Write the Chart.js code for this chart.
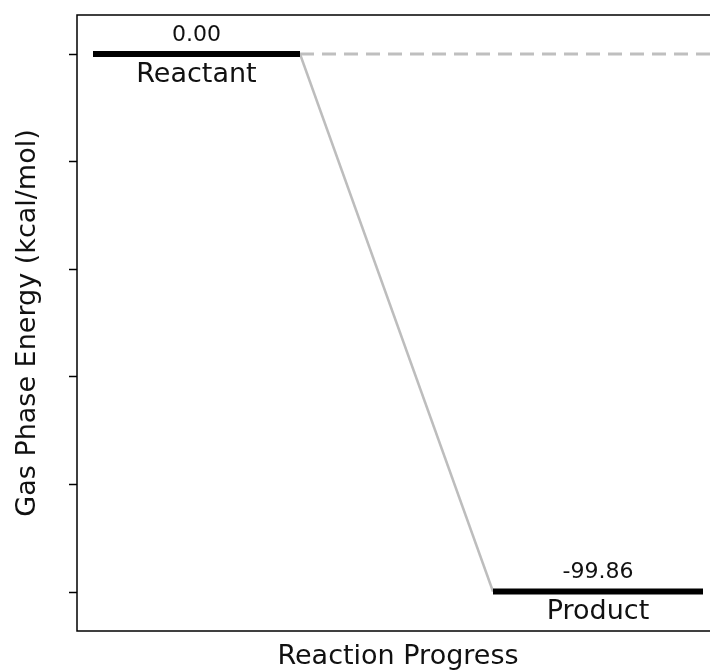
<!DOCTYPE html>
<html>
<head>
<meta charset="utf-8">
<script src="https://cdn.jsdelivr.net/npm/chart.js@4.4.1/dist/chart.umd.min.js"></script>
<style>
  html, body { margin: 0; padding: 0; background: #fff; overflow: hidden; }
</style>
</head>
<body>
<canvas id="chart" width="730" height="670"></canvas>
<script>
// energy levels
const states = ['Reactant', 'Product'];
const energies = [0.00, -99.86];
const levelStart = [0.08, 2.08];
const levelEnd = [1.115, 3.13];
const yTicks = [0, -20, -40, -60, -80, -100];

const FONT = "'DejaVu Sans', sans-serif";
const INK = '#111';

const levelSets = states.map((s, i) => ({
  label: s,
  data: [{x: levelStart[i], y: energies[i]}, {x: levelEnd[i], y: energies[i]}],
  borderColor: '#000',
  borderWidth: 6,
  pointRadius: 0,
  order: 0
}));

const connector = {
  label: 'path',
  data: [{x: levelEnd[0], y: energies[0]}, {x: levelStart[1], y: energies[1]}],
  borderColor: '#bdbdbd',
  borderWidth: 2.5,
  pointRadius: 0,
  order: 1
};

const reference = {
  label: 'zero',
  data: [{x: levelEnd[0], y: energies[0]}, {x: 3.21, y: energies[0]}],
  borderColor: '#bfbfbf',
  borderWidth: 3,
  borderDash: [14, 8],
  pointRadius: 0,
  order: 2
};

const labelPlugin = {
  id: 'levelLabels',
  afterDatasetsDraw(chart) {
    const {ctx, scales: {x, y}, chartArea} = chart;
    ctx.save();
    ctx.fillStyle = INK;
    ctx.textAlign = 'center';
    ctx.textBaseline = 'alphabetic';
    states.forEach((s, i) => {
      const cx = (x.getPixelForValue(levelStart[i]) + x.getPixelForValue(levelEnd[i])) / 2;
      const py = y.getPixelForValue(energies[i]);
      ctx.font = '22px ' + FONT;
      ctx.fillText(energies[i].toFixed(2), cx, py - 13);
      ctx.font = '27px ' + FONT;
      ctx.fillText(s, cx, py + 28);
    });
    // frame
    ctx.strokeStyle = '#000';
    ctx.lineWidth = 1.5;
    ctx.strokeRect(chartArea.left, chartArea.top, chartArea.right - chartArea.left, chartArea.bottom - chartArea.top);
    ctx.restore();
  }
};

new Chart(document.getElementById('chart'), {
  type: 'line',
  data: { datasets: [...levelSets, connector, reference] },
  options: {
    responsive: false,
    animation: false,
    devicePixelRatio: 1,
    layout: { padding: { top: 15, right: 11, left: 0, bottom: 0 } },
    plugins: { legend: { display: false }, tooltip: { enabled: false } },
    scales: {
      x: {
        type: 'linear',
        min: 0,
        max: 3.21,
        grid: { display: false },
        border: { display: false },
        ticks: { display: false },
        title: {
          display: true,
          text: 'Reaction Progress',
          color: INK,
          font: { family: FONT, size: 27, lineHeight: 1 },
          padding: { top: 0, bottom: 0 }
        },
        afterFit(scale) { scale.height = 39; }
      },
      y: {
        type: 'linear',
        min: -107.2,
        max: 7.25,
        afterBuildTicks(scale) { scale.ticks = yTicks.map(v => ({value: v})); },
        ticks: { display: false },
        grid: { drawOnChartArea: false, color: '#000', tickColor: '#000', tickLength: 8, tickWidth: 1.5 },
        border: { display: false },
        title: {
          display: true,
          text: 'Gas Phase Energy (kcal/mol)',
          color: INK,
          font: { family: FONT, size: 27, lineHeight: 1 },
          padding: { top: 14, bottom: 0 }
        },
        afterFit(scale) { scale.width = 77; }
      }
    }
  },
  plugins: [labelPlugin]
});
</script>
</body>
</html>
